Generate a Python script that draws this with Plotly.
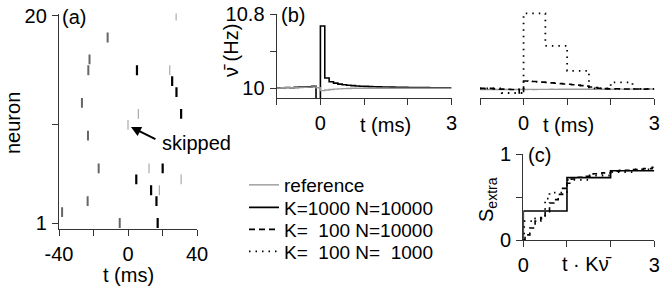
import plotly.graph_objects as go

W, H = 660, 287

# ---------------- panel (a): raster ----------------
pre_t = [-11.8, -22.3, -23.0, -26.7, -23.2, -17.0, -23.4, -38.2, -4.8]
pre_n = [18, 16, 15, 12, 9, 6, 3, 2, 1]
pert_t = [5.2, 25.6, 28.1, 30.8, 20.1, 4.8, 13.4, 16.5, 17.2]
pert_n = [15, 14, 13, 11, 6, 5, 4, 3, 1]
ref_t = [27.9, 24.2, 6.0, 0.0, 12.2, 30.8, 18.2]
ref_n = [20, 15, 11, 10, 6, 5, 4]
a_xticks = [-40, -20, 0, 20, 40]
a_xtext = ["-40", "", "0", "", "40"]
a_yticks = [1, 10, 20]
a_ytext = ["1", "", "20"]

# ---------------- panel (b): rates ----------------
bin01 = [round(-1.0 + 0.1 * i, 1) for i in range(40)]
rate_K1000 = [10.005, 10.005, 10.008, 10.006, 10.01, 10.012, 10.012, 10.015, 10.02, 9.85,
              10.67, 10.11, 10.07, 10.055, 10.045, 10.038, 10.032, 10.028, 10.025, 10.022,
              10.02, 10.018, 10.017, 10.015, 10.014, 10.013, 10.012, 10.011, 10.01, 10.01,
              10.009, 10.008, 10.008, 10.007, 10.007, 10.006, 10.006, 10.005, 10.005, 10.005]
rate_ref_left = [10.004, 10.005, 10.006, 10.005, 10.007, 10.008, 10.01, 10.012, 10.015, 10.005,
                 9.975, 9.982, 9.987, 9.991, 9.994, 9.996, 9.998, 10.0, 10.0, 10.001,
                 10.0, 10.001, 10.0, 10.0, 10.001, 10.0, 10.0, 10.001, 10.0, 10.0,
                 10.0, 10.001, 10.0, 10.0, 10.0, 10.001, 10.0, 10.0, 10.0, 10.0]
rate_ref_right = [9.998, 9.997, 9.998, 9.998, 9.997, 9.998, 9.998, 9.997, 9.998, 9.998,
                  9.998, 9.999, 9.998, 9.999, 9.999, 9.999, 10.0, 9.999, 10.0, 10.0,
                  10.0, 10.0, 10.0, 10.001, 10.0, 10.001, 10.001, 10.001, 10.0, 10.001,
                  10.001, 10.001, 10.002, 10.001, 10.002, 10.002, 10.002, 10.002, 10.002, 10.003]
rate_K100_N10000 = [10.01, 10.008, 10.01, 10.005, 10.0, 10.002, 10.0, 9.998, 10.0, 9.96,
                    10.09, 10.088, 10.085, 10.08, 10.078, 10.074, 10.07, 10.066, 10.062, 10.058,
                    10.054, 10.05, 10.045, 10.04, 10.035, 10.025, 10.018, 10.012, 10.008, 10.005,
                    10.004, 10.006, 10.005, 10.004, 10.003, 10.004, 10.003, 10.002, 10.003, 10.002]
bin05 = [-1.0, -0.5, 0.0, 0.5, 1.0, 1.5, 2.0, 2.5]
rate_K100_N1000 = [10.01, 9.96, 10.82, 10.47, 10.20, 10.01, 10.075, 10.005]
b_xticks = [-1, 0, 1, 2, 3]
b_xtext = ["", "0", "", "", "3"]
b_yticks = [10, 10.4, 10.8]
b_ytext = ["10", "", "10.8"]

# ---------------- panel (c): S_extra ----------------
c_solid_x = [0, 0, 1, 2, 3]
c_solid_y = [0, 0.337, 0.725, 0.806, 0.806]
c_dash_x = [0, 0.04, 0.15, 0.27, 0.4, 0.5, 0.6, 0.7, 0.8, 0.9, 1.0, 1.1, 1.2, 1.4, 1.6, 1.8,
            2.0, 2.2, 2.5, 2.75, 2.95, 3.0]
c_dash_y = [0, 0.06, 0.14, 0.22, 0.26, 0.33, 0.43, 0.47, 0.53, 0.6, 0.66, 0.71, 0.73, 0.74,
            0.77, 0.78, 0.80, 0.81, 0.82, 0.83, 0.845, 0.845]
c_dot_x = [0, 0.02, 0.25, 0.5, 0.6, 1.0, 1.5, 2.0, 2.5, 3.0]
c_dot_y = [0, 0.22, 0.25, 0.48, 0.55, 0.70, 0.75, 0.79, 0.82, 0.82]
c_xticks = [0, 1, 2, 3]
c_xtext = ["0", "", "", "3"]
c_yticks = [0, 0.5, 1]
c_ytext = ["0", "", "1"]

FONT = "Liberation Sans, Arial, sans-serif"
AX = "#333333"


def px_x(p):
    return p / W


def px_y(p):
    return 1 - p / H


def steps(edges, vals, end):
    return list(edges) + [end], list(vals) + [vals[-1]]


fig = go.Figure()

# raster
fig.add_trace(go.Scatter(x=pre_t, y=pre_n, mode="markers", xaxis="x", yaxis="y", showlegend=False,
                         marker=dict(symbol="line-ns", size=7, line=dict(color="#666666", width=2))))
fig.add_trace(go.Scatter(x=ref_t, y=ref_n, mode="markers", xaxis="x", yaxis="y", showlegend=False,
                         marker=dict(symbol="line-ns", size=7, line=dict(color="#aaaaaa", width=1.2))))
fig.add_trace(go.Scatter(x=pert_t, y=pert_n, mode="markers", xaxis="x", yaxis="y", showlegend=False,
                         marker=dict(symbol="line-ns", size=7, line=dict(color="#000000", width=2.2))))

# panel b left
x1, y1 = steps(bin01, rate_K1000, 3.0)
xr, yr = steps(bin01, rate_ref_left, 3.0)
fig.add_trace(go.Scatter(x=x1, y=y1, mode="lines", line=dict(color="black", width=1.6, shape="hv"),
                         xaxis="x2", yaxis="y2", name="K=1000 N=10000", legend="legend2"))
fig.add_trace(go.Scatter(x=xr, y=yr, mode="lines", line=dict(color="#999999", width=1.4, shape="hv"),
                         xaxis="x2", yaxis="y2", name="reference", legend="legend"))

# panel b right
xr2, yr2 = steps(bin01, rate_ref_right, 3.0)
xd, yd = steps(bin01, rate_K100_N10000, 3.0)
xo, yo = steps(bin05, rate_K100_N1000, 3.0)
fig.add_trace(go.Scatter(x=xr2, y=yr2, mode="lines", line=dict(color="#999999", width=1.4, shape="hv"),
                         xaxis="x3", yaxis="y3", showlegend=False))
fig.add_trace(go.Scatter(x=xd, y=yd, mode="lines",
                         line=dict(color="black", width=1.6, shape="hv", dash="6px,4px"),
                         xaxis="x3", yaxis="y3", name="K=\u00a0\u00a0100 N=10000", legend="legend3"))
fig.add_trace(go.Scatter(x=xo, y=yo, mode="lines",
                         line=dict(color="black", width=1.8, shape="hv", dash="1.5px,5px"),
                         xaxis="x3", yaxis="y3", name="K=\u00a0\u00a0100 N=\u00a0\u00a01000",
                         legend="legend4"))

# panel c
fig.add_trace(go.Scatter(x=c_solid_x, y=c_solid_y, mode="lines", showlegend=False,
                         line=dict(color="black", width=1.6, shape="hv"), xaxis="x4", yaxis="y4"))
fig.add_trace(go.Scatter(x=c_dash_x, y=c_dash_y, mode="lines", showlegend=False,
                         line=dict(color="black", width=1.6, shape="hv", dash="5px,4px"),
                         xaxis="x4", yaxis="y4"))
fig.add_trace(go.Scatter(x=c_dot_x, y=c_dot_y, mode="lines", showlegend=False,
                         line=dict(color="black", width=1.8, shape="hv", dash="1.5px,5px"),
                         xaxis="x4", yaxis="y4"))

common = dict(showline=True, linecolor=AX, linewidth=1.3, ticks="outside", ticklen=6,
              tickwidth=1.3, tickcolor=AX, showgrid=False, zeroline=False,
              tickfont=dict(size=20, color="black", family=FONT), tickmode="array")

layout = dict(
    width=W, height=H, margin=dict(l=0, r=0, t=0, b=0, autoexpand=False),
    paper_bgcolor="white", plot_bgcolor="white",
    font=dict(family=FONT, size=20, color="black"),
    xaxis=dict(domain=[px_x(59), px_x(197)], range=[-40, 40], anchor="y",
               tickvals=a_xticks, ticktext=a_xtext, ticklabelstandoff=1, **common),
    yaxis=dict(domain=[px_y(229), px_y(13.5)], range=[0.45, 20.2], anchor="x",
               tickvals=a_yticks, ticktext=a_ytext, ticklabelstandoff=1, **common),
    xaxis2=dict(domain=[px_x(276.7), px_x(451.5)], range=[-1, 3], anchor="y2",
                tickvals=b_xticks, ticktext=b_xtext, ticklabelstandoff=1, **common),
    yaxis2=dict(domain=[px_y(98.3), px_y(14)], range=[9.892, 10.8], anchor="x2",
                tickvals=b_yticks, ticktext=b_ytext, ticklabelstandoff=1, **common),
    xaxis3=dict(domain=[px_x(480), px_x(654.3)], range=[-1, 3], anchor="y3",
                tickvals=b_xticks, ticktext=b_xtext, ticklabelstandoff=1, **common),
    yaxis3=dict(domain=[px_y(98.3), px_y(10)], range=[9.903, 10.857], anchor="x3", visible=False),
    xaxis4=dict(domain=[px_x(523.3), px_x(654.3)], range=[0, 3], anchor="y4",
                tickvals=c_xticks, ticktext=c_xtext, ticklabelstandoff=1, **common),
    yaxis4=dict(domain=[px_y(240), px_y(154)], range=[0, 1], anchor="x4",
                tickvals=c_yticks, ticktext=c_ytext, ticklabelstandoff=1, **common),
)

rows = [185, 207.5, 229.5, 251.5]
for i, name in enumerate(["legend", "legend2", "legend3", "legend4"]):
    layout[name] = dict(x=px_x(244), y=px_y(rows[i]), xanchor="left", yanchor="middle",
                        bgcolor="rgba(0,0,0,0)", borderwidth=0,
                        font=dict(size=19, family=FONT, color="black"))
fig.update_layout(**layout)

ann = []


def txt(text, x, y, xa="center", ya="middle", angle=0, size=20):
    ann.append(dict(text=text, x=px_x(x), y=px_y(y), xref="paper", yref="paper",
                    xanchor=xa, yanchor=ya, showarrow=False, textangle=angle,
                    font=dict(size=size, family=FONT, color="black")))


txt("(a)", 60, 17, xa="left")
txt("(b)", 279, 15, xa="left")
txt("(c)", 526, 155, xa="left")
txt("neuron", 13, 123, angle=-90)
txt("t (ms)", 128, 275)
txt("\u03bd\u0304 (Hz)", 231, 50, angle=-90)
txt("t (ms)", 385, 125)
txt("t (ms)", 568, 125)
txt("S<sub>extra</sub>", 487, 200, angle=-90)
txt("t \u00b7 K\u03bd\u0304", 587, 264)
txt("skipped", 160, 143, xa="left")
ann.append(dict(text="", x=1.7, y=9.8, xref="x", yref="y", showarrow=True, ax=26, ay=13,
                axref="pixel", ayref="pixel", arrowhead=2, arrowsize=1, arrowwidth=2,
                arrowcolor="black"))
fig.update_layout(annotations=ann)

fig.write_html("out.html", config={"displayModeBar": False},
               post_script="document.body.style.margin='0';document.body.style.padding='0';")
